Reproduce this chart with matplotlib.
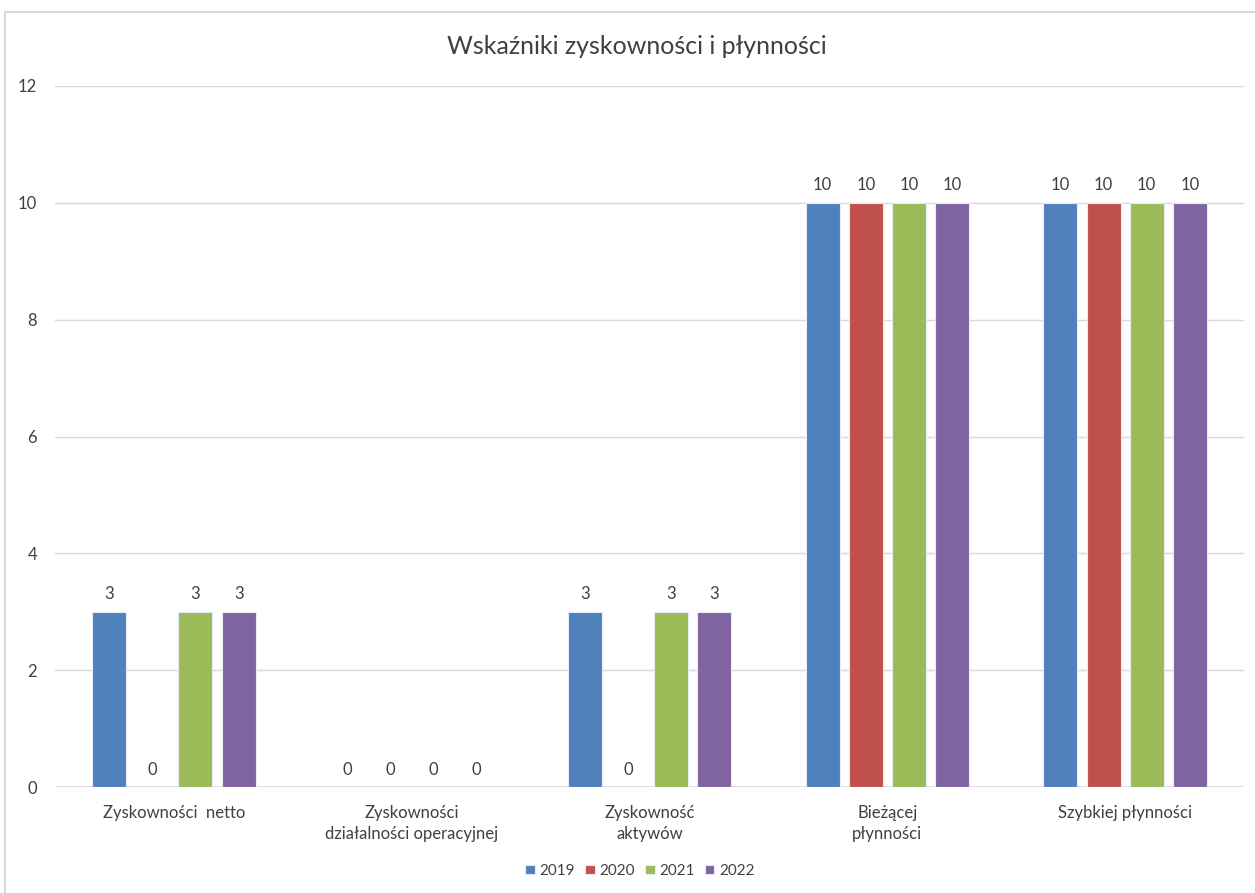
import matplotlib
matplotlib.use("Agg")
import matplotlib.pyplot as plt
from matplotlib.patches import Rectangle
import numpy as np

plt.rcParams['font.family'] = ['Lato', 'DejaVu Sans']

categories = ["Zyskowności  netto", "Zyskowności\ndziałalności operacyjnej",
              "Zyskowność\naktywów", "Bieżącej\npłynności", "Szybkiej płynności"]
years = ["2019", "2020", "2021", "2022"]
values_2019 = [3, 0, 3, 10, 10]
values_2020 = [0, 0, 0, 10, 10]
values_2021 = [3, 0, 3, 10, 10]
values_2022 = [3, 0, 3, 10, 10]
series = [values_2019, values_2020, values_2021, values_2022]
colors = ["#4F81BD", "#C0504D", "#9BBB59", "#8064A2"]
y_ticks = [0, 2, 4, 6, 8, 10, 12]

W, H = 1255, 893
fig = plt.figure(figsize=(W / 100, H / 100), dpi=100)
fig.patch.set_facecolor("white")

# chart frame
fig.patches.append(Rectangle((5 / W, -0.05), 1.2, 1 - 12 / H + 0.05,
                             transform=fig.transFigure, fill=False,
                             edgecolor="#D9D9D9", linewidth=1.5))

ax = fig.add_axes([55 / W, 1 - 787 / H, (1244 - 55) / W, (787 - 86) / H])
x = np.arange(len(categories))
bar_w = 0.143
step = 0.1815
for i, (yr, vals, c) in enumerate(zip(years, series, colors)):
    pos = x + (i - 1.5) * step
    ax.bar(pos, vals, width=bar_w, color=c, edgecolor="#E6ECF5",
           linewidth=0.8, label=yr, zorder=3)
    for xb, v in zip(pos, vals):
        ax.annotate(f"{v}", (xb, v), xytext=(0, 12.5), textcoords="offset points",
                    ha="center", va="center", fontsize=12, color="#404040")

ax.set_xlim(-0.5, len(categories) - 0.5)
ax.set_ylim(0, 12)
ax.set_yticks(y_ticks)
ax.yaxis.grid(True, color="#D9D9D9", linewidth=1, zorder=0)
ax.set_axisbelow(True)
for s in ax.spines.values():
    s.set_visible(False)
ax.axhline(0, color="#D9D9D9", linewidth=1.2, zorder=2)
ax.tick_params(axis="y", length=0, pad=13, labelsize=12, labelcolor="#404040")
ax.tick_params(axis="x", length=0, pad=13, labelsize=12, labelcolor="#404040")
ax.set_xticks(x)
ax.set_xticklabels(categories, linespacing=1.4)

fig.text(637 / W, 1 - 47 / H, "Wskaźniki zyskowności i płynności",
         ha="center", va="center", fontsize=18, color="#404040")

leg = fig.legend(loc="center", bbox_to_anchor=(640 / W, 1 - 871 / H), ncol=4,
                 frameon=False, fontsize=11, handlelength=0.6, handleheight=0.6,
                 handletextpad=0.3, columnspacing=0.7)
for t in leg.get_texts():
    t.set_color("#404040")

fig.savefig("out.png", dpi=100)
